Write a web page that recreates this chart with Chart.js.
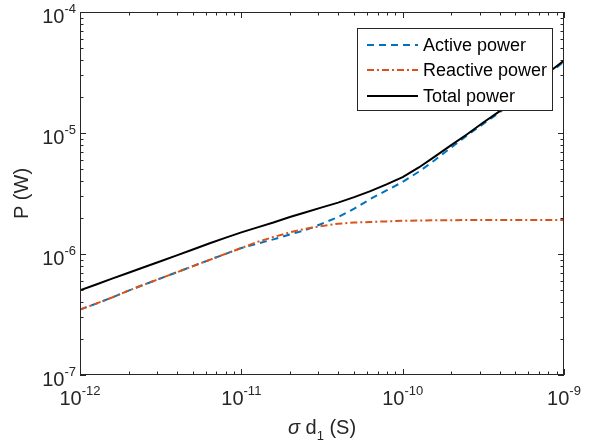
<!DOCTYPE html>
<html>
<head>
<meta charset="utf-8">
<script src="https://cdn.jsdelivr.net/npm/chart.js@4.4.0/dist/chart.umd.min.js"></script>
<style>
    html, body { margin: 0; padding: 0; background: #fff; }
    #wrap { width: 589px; height: 448px; }
</style>
</head>
<body>
<div id="wrap"><canvas id="grafico" width="589" height="448"></canvas></div>
<script>
// sigma*d1 (S), one point every 0.1 decade
const sigma = [
    1e-12, 1.26e-12, 1.58e-12, 2.0e-12, 2.51e-12, 3.16e-12, 3.98e-12, 5.01e-12, 6.31e-12, 7.94e-12,
    1e-11, 1.26e-11, 1.58e-11, 2.0e-11, 2.51e-11, 3.16e-11, 3.98e-11, 5.01e-11, 6.31e-11, 7.94e-11,
    1e-10, 1.26e-10, 1.58e-10, 2.0e-10, 2.51e-10, 3.16e-10, 3.98e-10, 5.01e-10, 6.31e-10, 7.94e-10,
    1e-9
];

const activePower = [
    3.47e-7, 3.89e-7, 4.37e-7, 4.98e-7, 5.60e-7, 6.29e-7, 7.06e-7, 7.93e-7, 8.91e-7, 1.0e-6,
    1.12e-6, 1.22e-6, 1.32e-6, 1.45e-6, 1.58e-6, 1.78e-6, 2.02e-6, 2.37e-6, 2.85e-6, 3.35e-6,
    3.94e-6, 4.79e-6, 5.96e-6, 7.59e-6, 9.55e-6, 1.19e-5, 1.48e-5, 1.88e-5, 2.40e-5, 3.05e-5,
    3.89e-5
];

const reactivePower = [
    3.47e-7, 3.89e-7, 4.37e-7, 4.98e-7, 5.60e-7, 6.29e-7, 7.06e-7, 7.93e-7, 8.91e-7, 1.0e-6,
    1.12e-6, 1.26e-6, 1.38e-6, 1.51e-6, 1.62e-6, 1.70e-6, 1.78e-6, 1.82e-6, 1.84e-6, 1.86e-6,
    1.88e-6, 1.89e-6, 1.90e-6, 1.90e-6, 1.91e-6, 1.91e-6, 1.91e-6, 1.91e-6, 1.91e-6, 1.91e-6,
    1.91e-6
];

const totalPower = [
    5.01e-7, 5.60e-7, 6.26e-7, 7.00e-7, 7.80e-7, 8.71e-7, 9.75e-7, 1.09e-6, 1.22e-6, 1.36e-6,
    1.51e-6, 1.66e-6, 1.82e-6, 2.02e-6, 2.21e-6, 2.43e-6, 2.66e-6, 2.95e-6, 3.31e-6, 3.76e-6,
    4.32e-6, 5.19e-6, 6.38e-6, 7.94e-6, 9.77e-6, 1.22e-5, 1.51e-5, 1.93e-5, 2.45e-5, 3.13e-5,
    3.98e-5
];

const xTicks = ['-12', '-11', '-10', '-9'];
const yTicks = ['-7', '-6', '-5', '-4'];

const FONTE = '"Liberation Sans", Arial, Helvetica, sans-serif';

function pontos(valores) {
    return sigma.map(function (s, i) { return { x: s, y: valores[i] }; });
}

function potencia10(ctx, exp, xIni, base, baseExp) {
    ctx.font = '20px ' + FONTE;
    ctx.fillText('10', xIni, base);
    const w10 = ctx.measureText('10').width;
    ctx.font = '13px ' + FONTE;
    ctx.fillText(exp, xIni + w10, baseExp);
}

function larguraPotencia(ctx, exp) {
    ctx.font = '20px ' + FONTE;
    const w10 = ctx.measureText('10').width;
    ctx.font = '13px ' + FONTE;
    return w10 + ctx.measureText(exp).width;
}

const eixosMatlab = {
    id: 'eixosMatlab',
    beforeDraw(chart) {
        const ctx = chart.ctx;
        ctx.save();
        ctx.fillStyle = '#fff';
        ctx.fillRect(0, 0, chart.width, chart.height);
        ctx.restore();
    },
    afterDatasetsDraw(chart) {
        const ctx = chart.ctx;
        const a = chart.chartArea;
        const sx = chart.scales.x;
        const sy = chart.scales.y;
        ctx.save();
        ctx.strokeStyle = '#262626';
        ctx.fillStyle = '#262626';
        ctx.lineWidth = 1;

        // caixa
        ctx.strokeRect(a.left + 0.5, a.top + 0.5, a.right - a.left - 1, a.bottom - a.top - 1);

        // marcas (para dentro), maiores nas decadas
        ctx.beginPath();
        for (let d = -12; d <= -9; d++) {
            for (let m = 1; m <= 9; m++) {
                if (d === -9 && m > 1) break;
                const v = m * Math.pow(10, d);
                const px = Math.round(sx.getPixelForValue(v)) + 0.5;
                const len = m === 1 ? 6 : 3.5;
                ctx.moveTo(px, a.bottom); ctx.lineTo(px, a.bottom - len);
                ctx.moveTo(px, a.top); ctx.lineTo(px, a.top + len);
            }
        }
        for (let d = -7; d <= -4; d++) {
            for (let m = 1; m <= 9; m++) {
                if (d === -4 && m > 1) break;
                const v = m * Math.pow(10, d);
                const py = Math.round(sy.getPixelForValue(v)) + 0.5;
                const len = m === 1 ? 6 : 3.5;
                ctx.moveTo(a.left, py); ctx.lineTo(a.left + len, py);
                ctx.moveTo(a.right, py); ctx.lineTo(a.right - len, py);
            }
        }
        ctx.stroke();

        // rotulos das marcas
        ctx.textAlign = 'left';
        ctx.textBaseline = 'alphabetic';
        xTicks.forEach(function (exp) {
            const px = sx.getPixelForValue(Math.pow(10, Number(exp)));
            const w = larguraPotencia(ctx, exp);
            potencia10(ctx, exp, px - w / 2, 405, 395);
        });
        yTicks.forEach(function (exp) {
            const py = sy.getPixelForValue(Math.pow(10, Number(exp)));
            const w = larguraPotencia(ctx, exp);
            potencia10(ctx, exp, 76 - w, py + 11, py + 1);
        });

        // titulo do eixo x: sigma d_1 (S)
        const partes = [
            { t: '\u03C3', f: 'italic 20px ' + FONTE, dy: 0 },
            { t: ' d', f: '20px ' + FONTE, dy: 0 },
            { t: '1', f: '13px ' + FONTE, dy: 6 },
            { t: ' (S)', f: '20px ' + FONTE, dy: 0 }
        ];
        let total = 0;
        partes.forEach(function (p) { ctx.font = p.f; p.w = ctx.measureText(p.t).width; total += p.w; });
        let xc = (a.left + a.right) / 2 - total / 2;
        partes.forEach(function (p) {
            ctx.font = p.f;
            ctx.fillText(p.t, xc, 434 + p.dy);
            xc += p.w;
        });

        // titulo do eixo y
        ctx.save();
        ctx.translate(22, (a.top + a.bottom) / 2);
        ctx.rotate(-Math.PI / 2);
        ctx.textAlign = 'center';
        ctx.textBaseline = 'middle';
        ctx.font = '20px ' + FONTE;
        ctx.fillText('P (W)', 0, 0);
        ctx.restore();

        // legenda
        const lx = 357, ly = 28, lw = 195, lh = 82;
        ctx.fillStyle = '#fff';
        ctx.fillRect(lx, ly, lw, lh);
        ctx.strokeStyle = '#262626';
        ctx.lineWidth = 1;
        ctx.strokeRect(lx + 0.5, ly + 0.5, lw, lh);
        const linhas = [45, 70, 96];
        ctx.font = '18px ' + FONTE;
        ctx.textBaseline = 'middle';
        ctx.textAlign = 'left';
        chart.data.datasets.forEach(function (ds, i) {
            const yy = linhas[i];
            ctx.save();
            ctx.strokeStyle = ds.borderColor;
            ctx.lineWidth = ds.borderWidth;
            ctx.setLineDash(ds.borderDash || []);
            ctx.beginPath();
            ctx.moveTo(367, yy);
            ctx.lineTo(418, yy);
            ctx.stroke();
            ctx.restore();
            ctx.fillStyle = '#000';
            ctx.fillText(ds.label, 423, yy + 1);
        });
        ctx.restore();
    }
};

new Chart(document.getElementById('grafico').getContext('2d'), {
    type: 'line',
    data: {
        datasets: [
            {
                label: 'Active power',
                data: pontos(activePower),
                borderColor: '#0072BD',
                borderWidth: 2,
                borderDash: [7, 5],
                order: 3
            },
            {
                label: 'Reactive power',
                data: pontos(reactivePower),
                borderColor: '#D95319',
                borderWidth: 2,
                borderDash: [7, 3, 2, 3],
                order: 2
            },
            {
                label: 'Total power',
                data: pontos(totalPower),
                borderColor: '#000000',
                borderWidth: 2,
                order: 1
            }
        ]
    },
    options: {
        responsive: false,
        animation: false,
        elements: {
            point: { radius: 0 },
            line: { fill: false, tension: 0 }
        },
        layout: {
            padding: { left: 80, right: 25, top: 12, bottom: 73 }
        },
        scales: {
            x: { type: 'logarithmic', min: 1e-12, max: 1e-9, display: false },
            y: { type: 'logarithmic', min: 1e-7, max: 1e-4, display: false }
        },
        plugins: {
            legend: { display: false },
            tooltip: { enabled: false }
        }
    },
    plugins: [eixosMatlab]
});
</script>
</body>
</html>
